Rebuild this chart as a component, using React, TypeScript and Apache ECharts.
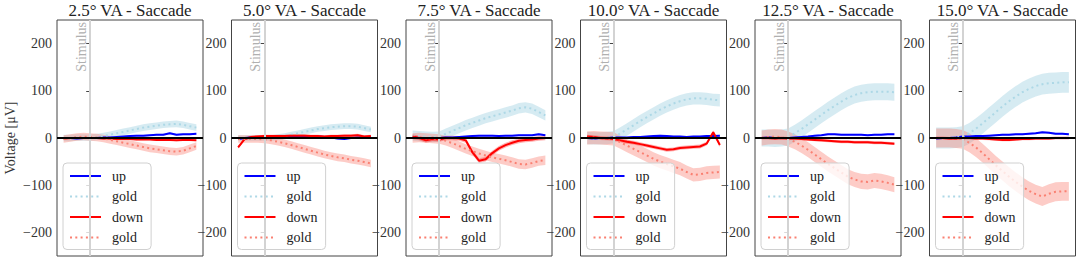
import React, { useEffect, useRef } from 'react';
import * as echarts from 'echarts';

// time axis in ms relative to stimulus onset
const TIMES = [-100, -75, -50, -25, 0, 25, 50, 75, 100, 125, 150, 175, 200, 225, 250, 275, 300, 325, 350, 375, 400];

const TITLES = ['2.5° VA - Saccade', '5.0° VA - Saccade', '7.5° VA - Saccade', '10.0° VA - Saccade', '12.5° VA - Saccade', '15.0° VA - Saccade'];

const Y_TICKS = [-200, -100, 0, 100, 200];

// measured "up" traces per panel
const UP_1 = [0, 0, -1, 0, 0, 0, 1, 1, 2, 3, 4, 5, 5, 6, 7, 7, 10, 7, 8, 8, 9];
const UP_2 = [-2, 0, 1, 2, 2, 2, 3, 3, 3, 4, 4, 3, 3, 2, 1, -1, -2, 0, 1, 1, 2];
const UP_3 = [1, 0, 0, -1, 0, 1, 1, 2, 3, 4, 5, 5, 5, 4, 5, 5, 6, 6, 6, 8, 6];
const UP_4 = [0, -1, 0, 0, 1, 1, 1, 2, 2, 3, 4, 5, 4, 3, 3, 2, 3, 3, 4, 4, 5];
const UP_5 = [0, 1, 0, 0, 0, 1, 2, 3, 5, 6, 8, 8, 7, 7, 7, 7, 6, 7, 7, 8, 8];
const UP_6 = [-1, 0, 0, 1, 3, 3, 4, 4, 5, 6, 7, 7, 8, 8, 9, 10, 12, 11, 9, 9, 8];

// gold standard "up"
const GOLD_UP_1 = [0, 0, 1, 1, 1, 2, 4, 7, 10, 13, 16, 19, 22, 24, 26, 28, 29, 30, 28, 25, 22];
const GOLD_UP_2 = [0, 0, 0, 0, 0, 0, 2, 4, 7, 10, 13, 16, 19, 21, 23, 24, 25, 25, 24, 21, 18];
const GOLD_UP_3 = [5, 4, 3, 2, 3, 9, 15, 21, 27, 32, 37, 42, 46, 50, 54, 58, 63, 65, 62, 55, 48];
const GOLD_UP_4 = [0, -1, -1, 0, 2, 10, 18, 27, 36, 44, 52, 60, 67, 73, 78, 82, 84, 84, 83, 81, 80];
const GOLD_UP_5 = [0, 0, -1, 0, 2, 10, 19, 29, 39, 49, 59, 68, 77, 85, 91, 95, 97, 98, 98, 98, 97];
const GOLD_UP_6 = [0, 0, 0, 1, 3, 10, 20, 31, 43, 55, 67, 78, 88, 97, 104, 110, 114, 116, 117, 118, 118];

// measured "down" traces
const DOWN_1 = [-1, 0, 0, 0, 0, 0, -1, -1, -2, -2, -2, -3, -3, -3, -4, -4, -4, -5, -4, -4, -5];
const DOWN_2 = [-20, -2, 2, 3, 4, 4, 4, 4, 5, 5, 5, 4, 4, 3, 4, 4, 5, 5, 6, 3, 4];
const DOWN_3 = [3, 0, -5, -2, -3, 0, 0, -1, -5, -30, -48, -45, -32, -22, -15, -10, -6, -4, -3, -1, 0];
const DOWN_4 = [3, 2, 0, -1, -2, -5, -8, -10, -13, -16, -19, -22, -25, -24, -21, -20, -19, -18, -12, 12, -15];
const DOWN_5 = [0, 0, -1, 0, -1, -1, -2, -3, -4, -5, -6, -7, -8, -8, -9, -9, -9, -10, -10, -11, -12];
const DOWN_6 = [0, 0, -1, -1, 0, 0, -1, -1, -2, -3, -4, -4, -3, -2, -2, -1, -1, -1, 0, 0, 0];

// gold standard "down"
const GOLD_DOWN_1 = [-2, 0, 2, 3, 2, 1, -1, -4, -7, -10, -13, -16, -19, -22, -24, -26, -28, -29, -27, -22, -17];
const GOLD_DOWN_2 = [-2, -2, -2, -2, -3, -5, -8, -11, -15, -19, -23, -27, -31, -35, -38, -41, -43, -46, -48, -51, -54];
const GOLD_DOWN_3 = [0, 1, 0, -1, -2, -6, -11, -17, -23, -28, -33, -37, -41, -44, -47, -51, -55, -56, -53, -49, -47];
const GOLD_DOWN_4 = [0, 1, 0, -1, -2, -9, -16, -23, -30, -37, -44, -50, -55, -60, -65, -72, -78, -77, -74, -73, -72];
const GOLD_DOWN_5 = [0, 2, 3, 2, -2, -8, -16, -25, -35, -45, -55, -64, -73, -82, -88, -92, -93, -90, -92, -95, -99];
const GOLD_DOWN_6 = [0, 0, 0, -1, -3, -10, -20, -32, -45, -58, -70, -82, -93, -103, -112, -119, -124, -118, -114, -113, -113];

// half-widths of the shaded bands per panel
const UP_BAND = [2, 2, 2, 2, 2, 2];
const GOLD_UP_BAND = [7, 6, 11, 13, 18, 22];
const DOWN_BAND = [2, 3, 5, 4, 3, 3];
const GOLD_DOWN_BAND = [8, 8, 10, 14, 16, 20];

const UP = [UP_1, UP_2, UP_3, UP_4, UP_5, UP_6];
const GOLD_UP = [GOLD_UP_1, GOLD_UP_2, GOLD_UP_3, GOLD_UP_4, GOLD_UP_5, GOLD_UP_6];
const DOWN = [DOWN_1, DOWN_2, DOWN_3, DOWN_4, DOWN_5, DOWN_6];
const GOLD_DOWN = [GOLD_DOWN_1, GOLD_DOWN_2, GOLD_DOWN_3, GOLD_DOWN_4, GOLD_DOWN_5, GOLD_DOWN_6];

const FONT = 'Liberation Serif';
const GRID_LEFT = [57, 231.5, 406, 580.5, 755, 929.5];
const GRID_W = 146;
const GRID_TOP = 20;
const GRID_H = 236;

function bandSeries(p: number, vals: number[], w: number, fill: string, name: string) {
  return {
    type: 'custom',
    name,
    xAxisIndex: p,
    yAxisIndex: p,
    z: 1,
    silent: true,
    data: [[TIMES[0], vals[0]]],
    renderItem: (params: any, api: any) => {
      const pts: number[][] = [];
      for (let i = 0; i < TIMES.length; i++) pts.push(api.coord([TIMES[i], vals[i] + w]));
      for (let i = TIMES.length - 1; i >= 0; i--) pts.push(api.coord([TIMES[i], vals[i] - w]));
      return { type: 'polygon', shape: { points: pts }, style: { fill } };
    },
  };
}

function lineSeries(p: number, name: string, vals: number[], color: string, dotted: boolean) {
  return {
    type: 'line',
    name,
    xAxisIndex: p,
    yAxisIndex: p,
    z: 3,
    symbol: 'none',
    showSymbol: false,
    data: TIMES.map((t, i) => [t, vals[i]]),
    itemStyle: { color },
    lineStyle: { color, width: 2, type: dotted ? [2, 3.3] : 'solid' },
  };
}

export default function App() {
  const ref = useRef<HTMLDivElement>(null);
  useEffect(() => {
    if (!ref.current) return;
    const chart = echarts.init(ref.current, undefined, { renderer: 'svg' });
    const grids: any[] = [];
    const xAxes: any[] = [];
    const yAxes: any[] = [];
    const series: any[] = [];
    const legends: any[] = [];
    const graphics: any[] = [];
    for (let p = 0; p < 6; p++) {
      graphics.push({
        type: 'text',
        x: GRID_LEFT[p] + GRID_W / 2,
        y: 2,
        silent: true,
        style: { text: TITLES[p], align: 'center', textAlign: 'center', verticalAlign: 'top', textVerticalAlign: 'top', font: 'normal 17px "Liberation Serif"', fill: '#222' },
      });
      grids.push({ left: GRID_LEFT[p], top: GRID_TOP, width: GRID_W, height: GRID_H, show: true, borderColor: '#444', borderWidth: 1, backgroundColor: 'transparent' });
      xAxes.push({ gridIndex: p, type: 'value', min: -125, max: 425, axisLine: { show: false }, axisTick: { show: false }, axisLabel: { show: false }, splitLine: { show: false } });
      yAxes.push({
        gridIndex: p,
        type: 'value',
        min: -250,
        max: 250,
        name: p === 0 ? 'Voltage [μV]' : '',
        nameLocation: 'middle',
        nameGap: 40,
        nameTextStyle: { fontFamily: FONT, fontSize: 14, color: '#333' },
        axisLine: { show: false },
        axisTick: { show: true, length: 4, customValues: Y_TICKS, lineStyle: { color: '#444' } },
        axisLabel: {
          customValues: Y_TICKS,
          fontFamily: FONT,
          fontSize: 14,
          color: '#333',
          margin: 5,
          formatter: (v: number) => (v < 0 ? '\u2212' + Math.abs(v) : String(v)),
        },
        splitLine: { show: false },
      });
      series.push(bandSeries(p, GOLD_UP[p], GOLD_UP_BAND[p], 'rgba(173,216,230,0.5)', 'gold_up_band'));
      series.push(bandSeries(p, GOLD_DOWN[p], GOLD_DOWN_BAND[p], 'rgba(250,128,114,0.4)', 'gold_down_band'));
      series.push(bandSeries(p, UP[p], UP_BAND[p], 'rgba(0,0,255,0.2)', 'up_band'));
      series.push(bandSeries(p, DOWN[p], DOWN_BAND[p], 'rgba(255,0,0,0.3)', 'down_band'));
      series.push({
        type: 'line',
        name: 'ref',
        xAxisIndex: p,
        yAxisIndex: p,
        z: 2,
        symbol: 'none',
        data: [[0, 0]],
        lineStyle: { opacity: 0 },
        markLine: {
          silent: true,
          symbol: 'none',
          animation: false,
          data: [
            {
              xAxis: 0,
              lineStyle: { color: '#d3d3d3', width: 2, type: 'solid' },
              label: { show: true, formatter: 'Stimulus', position: 'insideEndTop', distance: 2, fontFamily: FONT, fontSize: 14, color: '#b0b0b0' },
            },
            { yAxis: 0, lineStyle: { color: '#000', width: 2, type: 'solid' }, label: { show: false } },
          ],
        },
      });
      series.push(lineSeries(p, 'up', UP[p], '#0000ff', false));
      series.push(lineSeries(p, 'gold_up', GOLD_UP[p], '#add8e6', true));
      series.push(lineSeries(p, 'down', DOWN[p], '#ff0000', false));
      series.push(lineSeries(p, 'gold_down', GOLD_DOWN[p], '#fa8072', true));
      legends.push({
        left: GRID_LEFT[p] + 6,
        top: 163,
        orient: 'vertical',
        data: ['up', 'gold_up', 'down', 'gold_down'],
        formatter: (n: string) => (n.indexOf('gold') === 0 ? 'gold' : n),
        selectedMode: false,
        backgroundColor: 'rgba(255,255,255,0.8)',
        borderColor: '#d0d0d0',
        borderWidth: 1,
        borderRadius: 4,
        padding: [6, 8, 5, 6],
        itemWidth: 31,
        itemHeight: 14,
        itemGap: 6.5,
        itemStyle: { opacity: 0 },
        z: 5,
        textStyle: { fontFamily: FONT, fontSize: 14, color: '#222', padding: [0, 0, 0, 6] },
      });
    }
    chart.setOption({
      animation: false,
      graphic: graphics,
      grid: grids,
      xAxis: xAxes,
      yAxis: yAxes,
      legend: legends,
      series,
    });
    return () => chart.dispose();
  }, []);
  return <div ref={ref} style={{ position: 'fixed', left: 0, top: 0, width: 1079, height: 261, background: '#fff' }} />;
}
